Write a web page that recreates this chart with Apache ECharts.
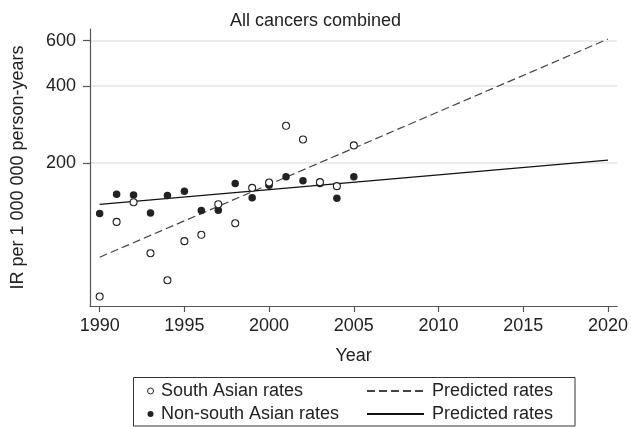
<!DOCTYPE html>
<html>
<head>
<meta charset="utf-8">
<script src="https://cdn.jsdelivr.net/npm/echarts@6/dist/echarts.min.js"></script>
<style>html,body{margin:0;padding:0;background:#fff}#c{width:631px;height:427px}</style>
</head>
<body>
<div id="c"></div>
<script>
const years = [1990,1991,1992,1993,1994,1995,1996,1997,1998,1999,2000,2001,2002,2003,2004,2005];
const southAsianRates = [60.1,117.6,140.4,88.7,69.6,98.9,104.7,137.9,116.2,159.7,167.6,279,246.8,168.1,162.2,234];
const nonSouthAsianRates = [126.8,150.9,149.9,127.5,149.1,155,130.3,130.6,166.2,146,163.6,176.4,170.1,166.2,145.6,176.4];
const predictedYears = [1990, 2020];
const predictedSouthAsian = [85.6, 609];
const predictedNonSouthAsian = [137.6, 204.9];
const xTicks = [1990,1995,2000,2005,2010,2015,2020];
const yTicks = [200,400,600];

const zip = (xs, ys) => xs.map((x, i) => [x, ys[i]]);
const FONT = 'Liberation Sans, Arial, sans-serif';
const TXT = '#222';

const chart = echarts.init(document.getElementById('c'), null, {renderer: 'canvas'});
chart.setOption({
  animation: false,
  backgroundColor: '#fff',
  title: {
    text: 'All cancers combined',
    left: 'center',
    top: 7,
    textStyle: {fontFamily: FONT, fontSize: 18, fontWeight: 'normal', color: TXT}
  },
  grid: {left: 90, right: 12, top: 29, bottom: 121},
  xAxis: {
    type: 'value',
    min: 1989.43,
    max: 2020.55,
    name: 'Year',
    nameLocation: 'middle',
    nameGap: 41,
    nameTextStyle: {fontFamily: FONT, fontSize: 18, color: TXT},
    axisLine: {show: true, onZero: false, lineStyle: {color: '#555', width: 1.2}},
    axisTick: {show: true, length: 6, customValues: xTicks, lineStyle: {color: '#555', width: 1.2}},
    axisLabel: {customValues: xTicks, margin: 11, fontFamily: FONT, fontSize: 18, color: TXT,
      formatter: v => String(Math.round(v))},
    splitLine: {show: false}
  },
  yAxis: {
    type: 'log',
    logBase: 10,
    min: 55.2,
    max: 666.4,
    name: 'IR per 1 000 000 person-years',
    nameLocation: 'middle',
    nameGap: 63,
    nameTextStyle: {fontFamily: FONT, fontSize: 18, color: TXT},
    axisLine: {show: true, lineStyle: {color: '#555', width: 1.2}},
    axisTick: {show: true, length: 7, customValues: yTicks, lineStyle: {color: '#555', width: 1.2}},
    axisLabel: {customValues: yTicks, margin: 14, fontFamily: FONT, fontSize: 18, color: TXT,
      formatter: v => String(Math.round(v))},
    splitLine: {show: true, lineStyle: {color: '#e6e6e6', width: 1.5}},
    minorTick: {show: false},
    minorSplitLine: {show: false}
  },
  legend: [
    {
      left: 147, top: 382, orient: 'vertical', itemGap: 5, padding: 0,
      itemWidth: 11, itemHeight: 6,
      data: ['South Asian rates', 'Non-south Asian rates'],
      itemStyle: {borderWidth: 1},
      textStyle: {fontFamily: FONT, fontSize: 18, color: TXT},
      selectedMode: false
    },
    {
      left: 366, top: 382, orient: 'vertical', itemGap: 5, padding: 0,
      itemWidth: 57, itemHeight: 10,
      data: ['Predicted rates (South Asian)', 'Predicted rates (Non-south Asian)'],
      formatter: () => 'Predicted rates',
      itemStyle: {opacity: 0},
      textStyle: {fontFamily: FONT, fontSize: 18, color: TXT, padding: [0, 0, 0, 3]},
      selectedMode: false
    }
  ],
  graphic: [{
    type: 'rect',
    shape: {x: 133.5, y: 377.5, width: 441.5, height: 48.5},
    style: {fill: 'none', stroke: '#333', lineWidth: 1},
    silent: true
  }],
  series: [
    {
      name: 'Predicted rates (South Asian)',
      type: 'line',
      data: zip(predictedYears, predictedSouthAsian),
      symbol: 'none',
      lineStyle: {color: '#444', width: 1.2, type: [8, 4]},
      itemStyle: {color: '#444'},
      z: 2
    },
    {
      name: 'Predicted rates (Non-south Asian)',
      type: 'line',
      data: zip(predictedYears, predictedNonSouthAsian),
      symbol: 'none',
      lineStyle: {color: '#111', width: 1.3, type: 'solid'},
      itemStyle: {color: '#111'},
      z: 2
    },
    {
      name: 'Non-south Asian rates',
      type: 'scatter',
      data: zip(years, nonSouthAsianRates),
      symbol: 'circle',
      symbolSize: 7.5,
      itemStyle: {color: '#222', opacity: 1},
      z: 4
    },
    {
      name: 'South Asian rates',
      type: 'scatter',
      data: zip(years, southAsianRates),
      symbol: 'circle',
      symbolSize: 7,
      itemStyle: {color: '#fff', borderColor: '#222', borderWidth: 1.1, opacity: 1},
      z: 5
    }
  ]
});
</script>
</body>
</html>
